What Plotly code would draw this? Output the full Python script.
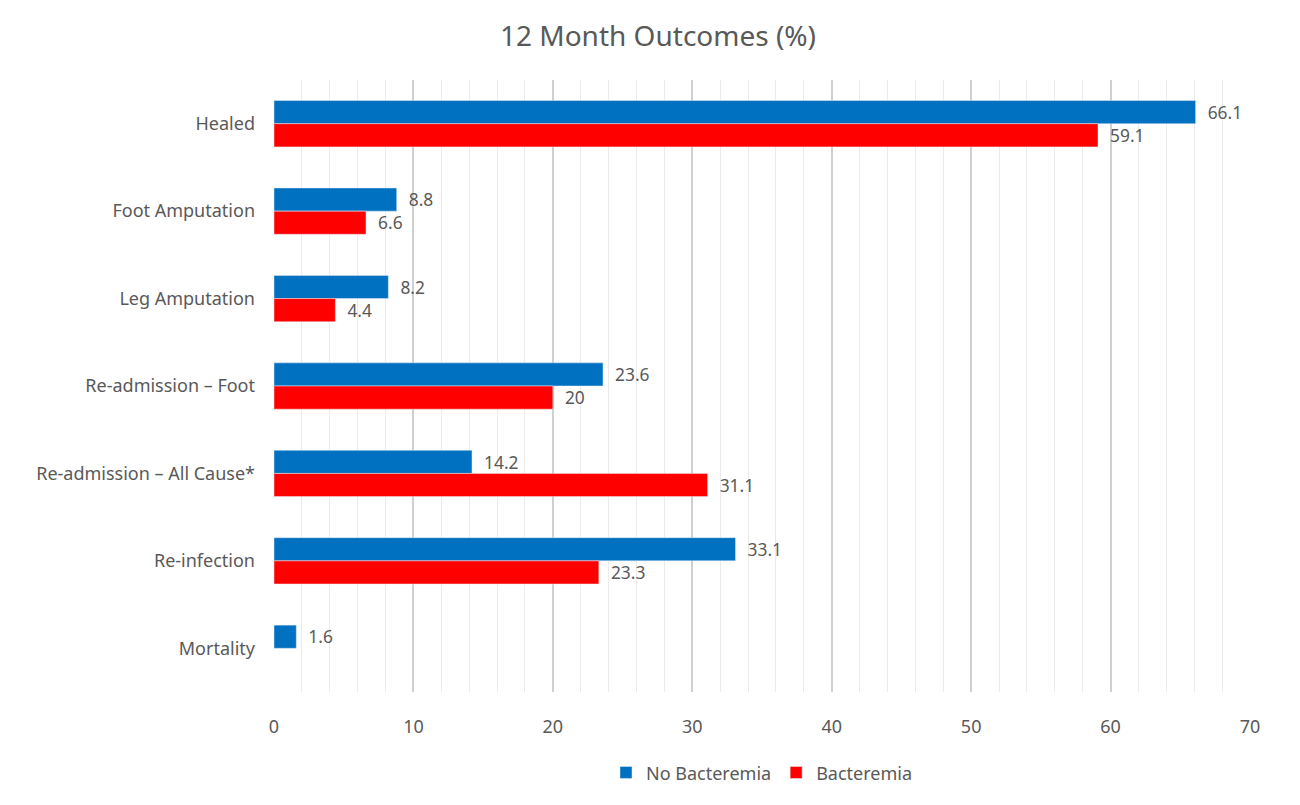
import plotly.graph_objects as go

categories = ["Healed", "Foot Amputation", "Leg Amputation", "Re-admission – Foot",
              "Re-admission – All Cause*", "Re-infection", "Mortality"]
no_bact = [66.1, 8.8, 8.2, 23.6, 14.2, 33.1, 1.6]
bact = [59.1, 6.6, 4.4, 20, 31.1, 23.3, None]
x_ticks = [0, 10, 20, 30, 40, 50, 60, 70]

FONT = "Noto Sans"
GREY = "#595959"

def labels(vals):
    return ["" if v is None else "  " + f"{v:g}" for v in vals]

fig = go.Figure()
fig.add_trace(go.Bar(
    y=categories, x=no_bact, orientation="h", name="No Bacteremia",
    marker=dict(color="#0070C0"), text=labels(no_bact), textposition="outside",
    textfont=dict(size=18, color=GREY, family=FONT), cliponaxis=False,
))
fig.add_trace(go.Bar(
    y=categories, x=bact, orientation="h", name="Bacteremia",
    marker=dict(color="#FF0000"), text=labels(bact), textposition="outside",
    textfont=dict(size=18, color=GREY, family=FONT), cliponaxis=False,
))

fig.update_layout(
    width=1300, height=805,
    paper_bgcolor="white", plot_bgcolor="white",
    barmode="group", bargap=0.47, bargroupgap=0,
    title=dict(text="12 Month Outcomes (%)", x=0.5, xanchor="center", y=0.965, yanchor="middle",
               font=dict(size=28, color=GREY, family=FONT)),
    margin=dict(l=266, r=58, t=72, b=121, autoexpand=False),
    font=dict(family=FONT, color=GREY, size=18),
    legend=dict(orientation="h", x=0.5, xanchor="center", y=-0.132, yanchor="middle",
                font=dict(size=18, color=GREY, family=FONT), traceorder="normal",
                itemwidth=30),
    xaxis=dict(range=[0, 70], tickvals=x_ticks, ticktext=[str(t) for t in x_ticks],
               showgrid=True, gridcolor="#D0D0D0", gridwidth=1.5,
               minor=dict(dtick=2, showgrid=True, gridcolor="#EBEBEB", gridwidth=1),
               zeroline=False, showline=False, ticks="", automargin=False,
               tickfont=dict(size=18, color=GREY, family=FONT), ticklabelstandoff=22),
    yaxis=dict(autorange="reversed", showgrid=False, zeroline=False, showline=False,
               ticks="", ticklabelstandoff=18, automargin=False,
               tickfont=dict(size=18, color=GREY, family=FONT)),
)

fig.write_html("out.html")
